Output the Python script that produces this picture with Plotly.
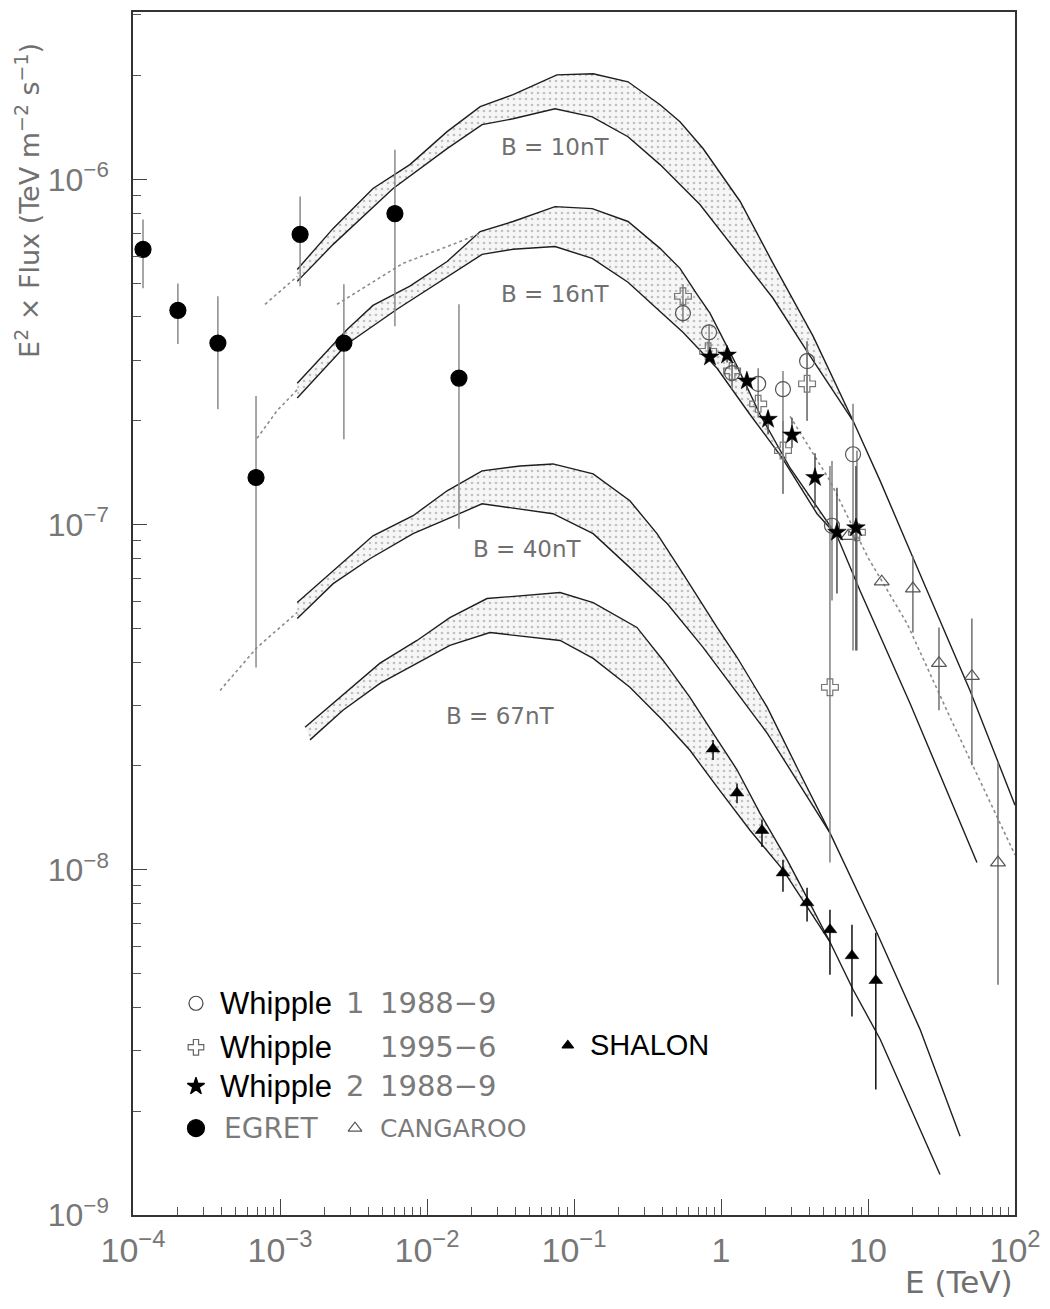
import plotly.graph_objects as go

# ---------------- data (E in TeV, E^2*Flux in TeV m^-2 s^-1) ----------------
EGRET_E = [1.17e-4, 2.02e-4, 3.78e-4, 6.87e-4, 1.37e-3, 2.72e-3, 6.05e-3, 1.65e-2]
EGRET_F = [6.28e-7, 4.18e-7, 3.36e-7, 1.37e-7, 6.94e-7, 3.36e-7, 7.97e-7, 2.66e-7]
EGRET_hi = [7.66e-7, 5.00e-7, 4.59e-7, 2.36e-7, 8.93e-7, 4.97e-7, 1.22e-6, 4.35e-7]
EGRET_lo = [4.84e-7, 3.34e-7, 2.16e-7, 3.86e-8, 4.91e-7, 1.77e-7, 3.76e-7, 9.74e-8]

W1_E = [0.551, 0.830, 1.19, 1.79, 2.64, 3.85, 5.69, 7.91]
W1_F = [4.10e-7, 3.61e-7, 2.75e-7, 2.56e-7, 2.47e-7, 2.98e-7, 9.93e-8, 1.60e-7]
W1_hi = [4.40e-7, 3.81e-7, 2.92e-7, 2.84e-7, 2.79e-7, 3.40e-7, 1.53e-7, 2.24e-7]
W1_lo = [3.85e-7, 3.25e-7, 2.47e-7, 2.28e-7, 1.23e-7, 2.00e-7, 6.03e-8, 4.32e-8]

W95_E = [0.551, 0.817, 1.19, 1.79, 2.64, 3.85, 5.51, 8.41]
W95_F = [4.59e-7, 3.18e-7, 2.79e-7, 2.24e-7, 1.64e-7, 2.56e-7, 3.38e-8, 9.51e-8]
W95_hi = [4.97e-7, 3.40e-7, 2.98e-7, 2.39e-7, 2.00e-7, 3.40e-7, 1.48e-7, 1.64e-7]
W95_lo = [4.29e-7, 2.98e-7, 2.52e-7, 2.04e-7, 1.23e-7, 2.00e-7, 1.05e-8, 4.32e-8]

W2_E = [0.841, 1.10, 1.50, 2.09, 3.04, 4.36, 6.15, 8.28]
W2_F = [3.06e-7, 3.10e-7, 2.61e-7, 2.02e-7, 1.82e-7, 1.37e-7, 9.51e-8, 9.80e-8]
W2_hi = [3.15e-7, 3.25e-7, 2.75e-7, 2.14e-7, 2.04e-7, 1.61e-7, 1.28e-7, 1.48e-7]
W2_lo = [2.97e-7, 2.95e-7, 2.45e-7, 1.83e-7, 1.67e-7, 1.12e-7, 6.32e-8, 4.32e-8]

CANG_E = [7.31, 12.4, 20.2, 30.4, 50.9, 76.6]
CANG_F = [9.27e-8, 6.84e-8, 6.53e-8, 3.97e-8, 3.64e-8, 1.05e-8]
CANG_hi = [9.27e-8, 6.84e-8, 8.13e-8, 5.04e-8, 5.35e-8, 2.05e-8]
CANG_lo = [9.27e-8, 6.84e-8, 4.87e-8, 2.90e-8, 2.01e-8, 4.65e-9]

SHAL_E = [0.883, 1.285, 1.90, 2.64, 3.85, 5.51, 7.78, 11.3]
SHAL_F = [2.24e-8, 1.67e-8, 1.30e-8, 9.80e-9, 8.03e-9, 6.71e-9, 5.64e-9, 4.78e-9]
SHAL_hi = [2.38e-8, 1.78e-8, 1.40e-8, 1.07e-8, 8.87e-9, 7.66e-9, 6.93e-9, 6.57e-9]
SHAL_lo = [2.08e-8, 1.56e-8, 1.165e-8, 8.64e-9, 7.08e-9, 4.97e-9, 3.76e-9, 2.31e-9]

# model bands (upper / lower edges)
B10_up_E = [1.31e-3, 2.30e-3, 4.29e-3, 7.65e-3, 1.37e-2, 2.30e-2, 3.85e-2, 7.65e-2, 0.135, 0.233, 0.385,
            0.526, 0.755, 1.35, 2.26, 4.23, 7.91, 12.1, 20.2, 49.4, 100]
B10_up_F = [5.49e-7, 7.22e-7, 9.42e-7, 1.105e-6, 1.377e-6, 1.626e-6, 1.762e-6, 2.011e-6, 2.025e-6, 1.92e-6,
            1.648e-6, 1.47e-6, 1.23e-6, 8.64e-7, 5.72e-7, 3.52e-7, 2.00e-7, 1.34e-7, 8.03e-8, 3.31e-8, 1.54e-8]
B10_lo_E = [1.31e-3, 2.30e-3, 5.88e-3, 1.37e-2, 2.37e-2, 3.85e-2, 7.43e-2, 0.133, 0.233, 0.385, 0.719,
            1.285, 2.26, 3.85, 7.91]
B10_lo_F = [5.07e-7, 6.49e-7, 9.42e-7, 1.229e-6, 1.443e-6, 1.50e-6, 1.604e-6, 1.52e-6, 1.331e-6, 1.105e-6,
            8.47e-7, 6.19e-7, 4.53e-7, 3.18e-7, 2.00e-7]

B16_up_E = [1.31e-3, 2.86e-3, 4.29e-3, 7.65e-3, 1.37e-2, 2.30e-2, 3.85e-2, 7.43e-2, 0.133, 0.233, 0.385,
            0.526, 0.687, 0.841, 1.285, 1.84, 2.95, 6.15, 8.83, 19.3, 55.1]
B16_up_F = [2.57e-7, 3.68e-7, 4.32e-7, 4.91e-7, 5.79e-7, 7.07e-7, 7.56e-7, 8.35e-7, 8.24e-7, 7.56e-7,
            6.32e-7, 5.53e-7, 4.65e-7, 4.10e-7, 2.88e-7, 2.09e-7, 1.46e-7, 9.29e-8, 6.44e-8, 3.04e-8, 1.05e-8]
B16_lo_E = [1.31e-3, 2.86e-3, 6.25e-3, 1.22e-2, 2.37e-2, 3.85e-2, 7.43e-2, 0.133, 0.233, 0.385, 0.551,
            0.940, 1.57, 2.64, 4.50, 6.15]
B16_lo_F = [2.33e-7, 3.34e-7, 4.21e-7, 5.07e-7, 6.07e-7, 6.28e-7, 6.40e-7, 5.91e-7, 5.04e-7, 4.15e-7,
            3.61e-7, 2.84e-7, 2.09e-7, 1.55e-7, 1.076e-7, 9.29e-8]

B40_up_E = [1.31e-3, 2.30e-3, 4.29e-3, 8.04e-3, 1.37e-2, 2.37e-2, 4.29e-2, 7.19e-2, 0.135, 0.240, 0.367,
            0.551, 0.940, 1.285, 2.06, 3.29, 5.51, 11.5, 22.6, 42.3]
B40_up_F = [5.95e-8, 7.36e-8, 9.29e-8, 1.062e-7, 1.254e-7, 1.432e-7, 1.48e-7, 1.50e-7, 1.404e-7, 1.173e-7,
            9.42e-8, 7.22e-8, 5.04e-8, 4.13e-8, 2.96e-8, 1.98e-8, 1.28e-8, 6.57e-9, 3.45e-9, 1.69e-9]
B40_lo_E = [1.31e-3, 2.30e-3, 4.09e-3, 8.04e-3, 1.43e-2, 2.37e-2, 7.19e-2, 0.135, 0.240, 0.430, 0.755,
            1.285, 2.06, 3.44, 5.51]
B40_lo_F = [5.35e-8, 6.75e-8, 7.97e-8, 9.42e-8, 1.047e-7, 1.15e-7, 1.076e-7, 9.42e-8, 7.51e-8, 5.91e-8,
            4.41e-8, 3.25e-8, 2.49e-8, 1.76e-8, 1.28e-8]

B67_up_E = [1.48e-3, 2.56e-3, 4.79e-3, 8.55e-3, 1.43e-2, 2.56e-2, 8.04e-2, 0.135, 0.268, 0.403, 0.615,
            0.883, 1.285, 1.84, 2.81, 3.61, 5.51, 7.91, 12.1, 30.9]
B67_up_F = [2.59e-8, 3.16e-8, 3.97e-8, 4.62e-8, 5.38e-8, 6.11e-8, 6.36e-8, 5.95e-8, 5.04e-8, 4.05e-8,
            3.16e-8, 2.49e-8, 1.95e-8, 1.46e-8, 1.07e-8, 8.75e-9, 6.18e-9, 4.50e-9, 3.23e-9, 1.31e-9]
B67_lo_E = [1.60e-3, 2.68e-3, 4.79e-3, 8.55e-3, 1.43e-2, 2.68e-2, 8.04e-2, 0.135, 0.240, 0.403, 0.615,
            0.940, 1.57, 2.64, 3.85, 5.51]
B67_lo_F = [2.38e-8, 2.90e-8, 3.47e-8, 3.97e-8, 4.47e-8, 4.87e-8, 4.62e-8, 4.10e-8, 3.38e-8, 2.71e-8,
            2.22e-8, 1.74e-8, 1.305e-8, 1.00e-8, 7.82e-9, 6.18e-9]

# dotted extensions
D10_E = [7.91e-4, 1.31e-3]
D10_F = [4.35e-7, 5.24e-7]
D16_E = [6.98e-4, 9.55e-4, 1.31e-3]
D16_F = [1.78e-7, 2.14e-7, 2.46e-7]
D16b_E = [2.44e-3, 4.09e-3, 6.87e-3, 1.50e-2, 2.30e-2]
D16b_F = [4.35e-7, 5.00e-7, 5.72e-7, 6.49e-7, 6.98e-7]
D40_E = [3.91e-4, 6.98e-4, 1.31e-3]
D40_F = [3.31e-8, 4.41e-8, 5.57e-8]
DR_E = [2.95, 5.51, 10.0, 18.4, 36.1, 100]
DR_F = [2.06e-7, 1.34e-7, 8.03e-8, 5.18e-8, 2.77e-8, 1.105e-8]

BAND_LABELS = ["B = 10nT", "B = 16nT", "B = 40nT", "B = 67nT"]

X_TICKS = [1e-4, 1e-3, 1e-2, 1e-1, 1, 10, 100]
X_TICKTEXT = ["10<sup>−4</sup>", "10<sup>−3</sup>", "10<sup>−2</sup>", "10<sup>−1</sup>", "1", "10", "10<sup>2</sup>"]
Y_TICKS = [1e-9, 1e-8, 1e-7, 1e-6]
Y_TICKTEXT = ["10<sup>−9</sup>", "10<sup>−8</sup>", "10<sup>−7</sup>", "10<sup>−6</sup>"]

# ---------------- figure ----------------
fig = go.Figure()

LINE = "#1e1e1e"
GREY_TXT = "#707070"
FONT = "Liberation Sans"
WIDE = "DejaVu Sans"


def band(upE, upF, loE, loF):
    last = loE[-1]
    pe = [e for e in upE if e <= last * 1.0001]
    pf = upF[:len(pe)]
    fig.add_trace(go.Scatter(
        x=pe + loE[::-1], y=pf + loF[::-1], mode="none", fill="toself",
        fillcolor="rgba(0,0,0,0)",
        fillpattern=dict(shape=".", fgcolor="#8a8a8a", bgcolor="#f6f6f6", size=6, solidity=0.15),
        hoverinfo="skip"))
    fig.add_trace(go.Scatter(x=upE, y=upF, mode="lines", line=dict(color=LINE, width=1.4), hoverinfo="skip"))
    fig.add_trace(go.Scatter(x=loE, y=loF, mode="lines", line=dict(color=LINE, width=1.4), hoverinfo="skip"))


band(B10_up_E, B10_up_F, B10_lo_E, B10_lo_F)
band(B16_up_E, B16_up_F, B16_lo_E, B16_lo_F)
band(B40_up_E, B40_up_F, B40_lo_E, B40_lo_F)
band(B67_up_E, B67_up_F, B67_lo_E, B67_lo_F)

for dE, dF in [(D10_E, D10_F), (D16_E, D16_F), (D16b_E, D16b_F), (D40_E, D40_F), (DR_E, DR_F)]:
    fig.add_trace(go.Scatter(x=dE, y=dF, mode="lines",
                             line=dict(color="#8c8c8c", width=1.6, dash="dot"), hoverinfo="skip"))


def errs(F, hi, lo):
    return ([h - f for f, h in zip(F, hi)], [f - l for f, l in zip(F, lo)])


def points(E, F, hi, lo, symbol, size, color, lcolor, barcolor, lw=1.2):
    up, dn = errs(F, hi, lo)
    fig.add_trace(go.Scatter(
        x=E, y=F, mode="markers",
        marker=dict(symbol=symbol, size=size, color=color, line=dict(color=lcolor, width=lw)),
        error_y=dict(type="data", symmetric=False, array=up, arrayminus=dn,
                     color=barcolor, thickness=1.5, width=0),
        hoverinfo="skip"))


points(EGRET_E, EGRET_F, EGRET_hi, EGRET_lo, "circle", 16, "#000000", "#000000", "#8a8a8a")
points(CANG_E, CANG_F, CANG_hi, CANG_lo, "triangle-up-open", 13, "#555555", "#555555", "#707070")
points(W95_E, W95_F, W95_hi, W95_lo, "cross-open", 14, "#777777", "#777777", "#808080")
points(W1_E, W1_F, W1_hi, W1_lo, "circle-open", 15, "#555555", "#555555", "#808080")
points(W2_E, W2_F, W2_hi, W2_lo, "star", 14, "#000000", "#000000", "#4a4a4a", lw=0.5)
points(SHAL_E, SHAL_F, SHAL_hi, SHAL_lo, "triangle-up", 12, "#000000", "#000000", "#111111", lw=0.5)

# ---------------- legend (custom, drawn on an overlay paper-like axis) ----------------
LEG_ROWS_Y = [0.176, 0.1394, 0.107, 0.0722]
leg_syms = [
    (0.0714, LEG_ROWS_Y[0], "circle-open", 14, "#444444"),
    (0.0714, LEG_ROWS_Y[1], "cross-open", 13, "#666666"),
    (0.0714, LEG_ROWS_Y[2], "star", 13, "#000000"),
    (0.0714, LEG_ROWS_Y[3], "circle", 17, "#000000"),
    (0.2517, LEG_ROWS_Y[3], "triangle-up-open", 12, "#555555"),
    (0.493, 0.141, "triangle-up", 10, "#000000"),
]
for lx, ly, sym, sz, col in leg_syms:
    fig.add_trace(go.Scatter(x=[lx], y=[ly], xaxis="x2", yaxis="y2", mode="markers",
                             marker=dict(symbol=sym, size=sz, color=col, line=dict(color=col, width=1.2)),
                             hoverinfo="skip"))

ann = []


def txt(x, y, s, size, color, family=FONT, xanchor="left", angle=0, yanchor="middle"):
    ann.append(dict(x=x, y=y, xref="paper", yref="paper", text=s, showarrow=False,
                    xanchor=xanchor, yanchor=yanchor, textangle=angle,
                    font=dict(family=family, size=size, color=color)))


for i in range(3):
    txt(0.0964, LEG_ROWS_Y[i], "Whipple", 31, "#000000")
txt(0.2517, LEG_ROWS_Y[0], "1", 29, "#7a7a7a", family=WIDE, xanchor="center")
txt(0.2517, LEG_ROWS_Y[2], "2", 29, "#7a7a7a", family=WIDE, xanchor="center")
txt(0.2778, LEG_ROWS_Y[0], "1988−9", 29, "#7a7a7a", family=WIDE)
txt(0.2778, LEG_ROWS_Y[1], "1995−6", 29, "#7a7a7a", family=WIDE)
txt(0.2778, LEG_ROWS_Y[2], "1988−9", 29, "#7a7a7a", family=WIDE)
txt(0.1009, LEG_ROWS_Y[3], "EGRET", 28, "#7a7a7a", family=WIDE)
txt(0.2778, LEG_ROWS_Y[3], "CANGAROO", 25, "#7a7a7a", family=WIDE)
txt(0.516, 0.141, "SHALON", 29, "#000000")

# band labels
for (bx, by), lab in zip([(0.4785, 0.888), (0.4785, 0.766), (0.4478, 0.5535), (0.4161, 0.415)], BAND_LABELS):
    txt(bx, by, lab, 23, GREY_TXT, family=WIDE, xanchor="center")

# axis titles
txt(-0.119, 0.843, "E<sup>2</sup> × Flux (TeV m<sup>−2</sup> s<sup>−1</sup>)", 27, GREY_TXT,
    family=WIDE, xanchor="center", angle=-90)
txt(1.0, -0.0556, "E (TeV)", 31, GREY_TXT, family=WIDE, xanchor="right")

x_minor = [k * 10.0 ** d for d in range(-4, 2) for k in range(2, 10)]
y_minor = [k * 10.0 ** d for d in range(-9, -5) for k in range(2, 10) if k * 10.0 ** d < 3.05e-6]

fig.update_layout(
    width=1042, height=1301,
    margin=dict(l=125, r=35, t=2, b=94),
    paper_bgcolor="white", plot_bgcolor="white",
    showlegend=False,
    annotations=ann,
    xaxis=dict(type="log", range=[-4, 2], tickvals=X_TICKS, ticktext=X_TICKTEXT,
               ticks="inside", ticklen=16, tickwidth=1, tickcolor="#444",
               showline=True, linecolor="#333", linewidth=1.5, mirror=True,
               showgrid=False, zeroline=False,
               tickfont=dict(family=FONT, size=34, color="#777"), ticklabelstandoff=4,
               minor=dict(tickvals=x_minor, ticks="inside", ticklen=8, tickcolor="#555", tickwidth=1,
                          showgrid=False)),
    yaxis=dict(type="log", range=[-9, -5.5145], tickvals=Y_TICKS, ticktext=Y_TICKTEXT,
               ticks="inside", ticklen=14, tickwidth=1, tickcolor="#444",
               showline=True, linecolor="#333", linewidth=1.5, mirror=True,
               showgrid=False, zeroline=False,
               tickfont=dict(family=FONT, size=32, color="#777"), ticklabelstandoff=16,
               minor=dict(tickvals=y_minor, ticks="inside", ticklen=8, tickcolor="#555", tickwidth=1,
                          showgrid=False)),
    xaxis2=dict(overlaying="x", range=[0, 1], visible=False, fixedrange=True),
    yaxis2=dict(overlaying="y", range=[0, 1], visible=False, fixedrange=True),
)

fig.write_html("out.html")
